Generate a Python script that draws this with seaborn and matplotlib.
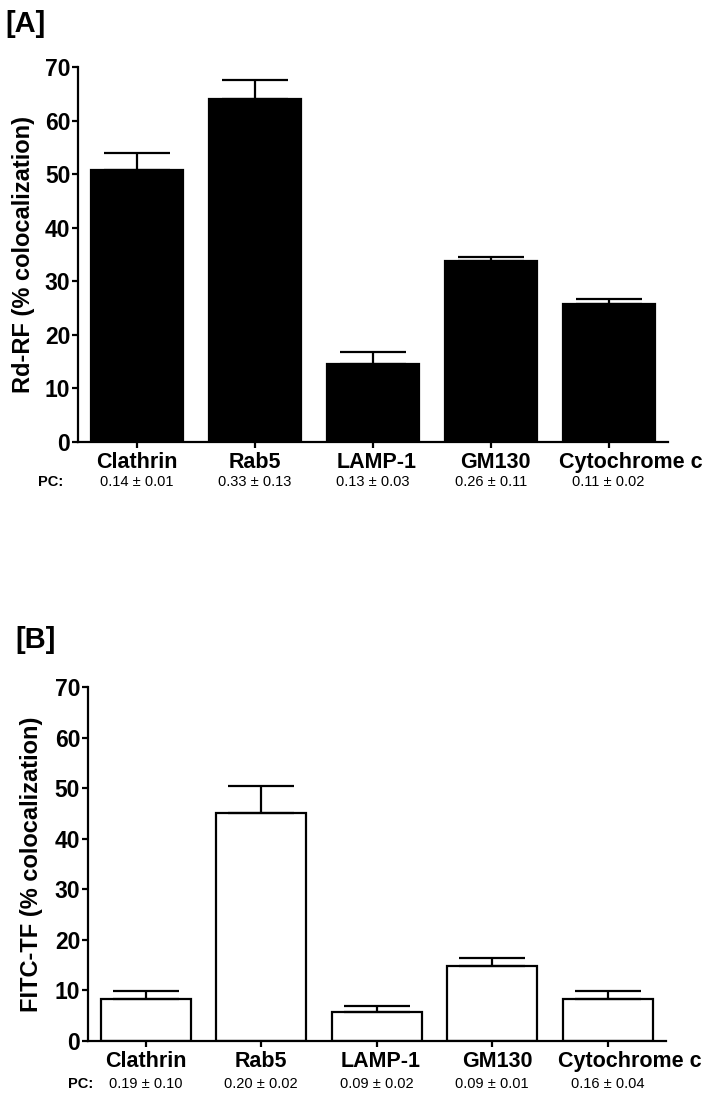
# colocalization_bars.py
# Rd-RF and FITC-TF colocalization with organelle markers (two panels)

import numpy as np
import matplotlib
matplotlib.use("Agg")
import matplotlib.pyplot as plt
import matplotlib.transforms as mtransforms
import seaborn as sns

# Data
categories = ["Clathrin", "Rab5", "LAMP-1", "GM130", "Cytochrome c"]

rdrf_mean = [50.7, 64.0, 14.4, 33.7, 25.8]
rdrf_err = [3.2, 3.5, 2.3, 0.7, 0.9]
rdrf_pc = ["0.14 ± 0.01", "0.33 ± 0.13", "0.13 ± 0.03", "0.26 ± 0.11", "0.11 ± 0.02"]

fitc_mean = [8.4, 45.0, 5.7, 14.8, 8.3]
fitc_err = [1.5, 5.4, 1.2, 1.6, 1.5]
fitc_pc = ["0.19 ± 0.10", "0.20 ± 0.02", "0.09 ± 0.02", "0.09 ± 0.01", "0.16 ± 0.04"]

y_ticks = [0, 10, 20, 30, 40, 50, 60, 70]

sns.set_theme(style="ticks")
plt.rcParams['font.family'] = ['Liberation Sans', 'DejaVu Sans']
for key in ['text.color', 'axes.labelcolor', 'xtick.color', 'ytick.color', 'axes.edgecolor']:
    plt.rcParams[key] = 'black'
LW = 1.6
# GraphPad nudges the labels slightly right (pixels)
label_shift = [0, 0, 4, 5, 22]


def draw_panel(fig, ax, means, errs, pcs, face, ylabel, label_x, pc_y):
    sns.barplot(x=categories, y=means, color=face, saturation=1,
                edgecolor='black', linewidth=LW, width=0.78, ax=ax)
    ax.errorbar(range(len(categories)), means,
                yerr=[np.zeros(len(errs)), errs], fmt='none',
                ecolor='black', elinewidth=LW, capsize=24, capthick=LW,
                zorder=5)
    ax.set_xlim(-0.5, 4.5)
    ax.set_ylim(0, 70)
    ax.set_yticks(y_ticks)
    sns.despine(ax=ax)
    for side in ['left', 'bottom']:
        ax.spines[side].set_linewidth(LW)
    ax.tick_params(axis='both', length=4.5, width=LW)
    ax.tick_params(axis='y', labelsize=16.5, pad=1)
    ax.tick_params(axis='x', labelsize=15.5, pad=3)
    for t in ax.get_yticklabels():
        t.set_fontweight('bold')
    for t, dx in zip(ax.get_xticklabels(), label_shift):
        t.set_fontweight('bold')
        t.set_transform(t.get_transform() +
                        mtransforms.ScaledTranslation(dx / 100, 0, fig.dpi_scale_trans))
    ax.set_ylabel(ylabel, fontsize=17, fontweight='bold')
    ax.yaxis.set_label_coords(label_x, 0.5)
    ax.set_xlabel('')
    for i, txt in enumerate(pcs):
        ax.text(i, pc_y, txt, transform=ax.get_xaxis_transform(),
                ha='center', va='center', fontsize=10.5)


fig = plt.figure(figsize=(7.08, 10.97), dpi=100)
ax_a = fig.add_axes([0.110, 0.5975, 0.833, 0.3414])
ax_b = fig.add_axes([0.124, 0.0510, 0.816, 0.3227])

draw_panel(fig, ax_a, rdrf_mean, rdrf_err, rdrf_pc, 'black',
           'Rd-RF (% colocalization)', -0.073, -0.108)
draw_panel(fig, ax_b, fitc_mean, fitc_err, fitc_pc, 'white',
           'FITC-TF (% colocalization)', -0.078, -0.122)

# panel tags and PC row headers
fig.text(0.008, 1 - 24 / 1097, '[A]', fontsize=21, fontweight='bold', va='center')
fig.text(0.022, 1 - 640 / 1097, '[B]', fontsize=21, fontweight='bold', va='center')
fig.text(63 / 708, 1 - 482 / 1097, 'PC:', fontsize=10.5, fontweight='bold', ha='right', va='center')
fig.text(93 / 708, 1 - 1084 / 1097, 'PC:', fontsize=10.5, fontweight='bold', ha='right', va='center')

fig.savefig('out.png', dpi=100)
plt.close(fig)
